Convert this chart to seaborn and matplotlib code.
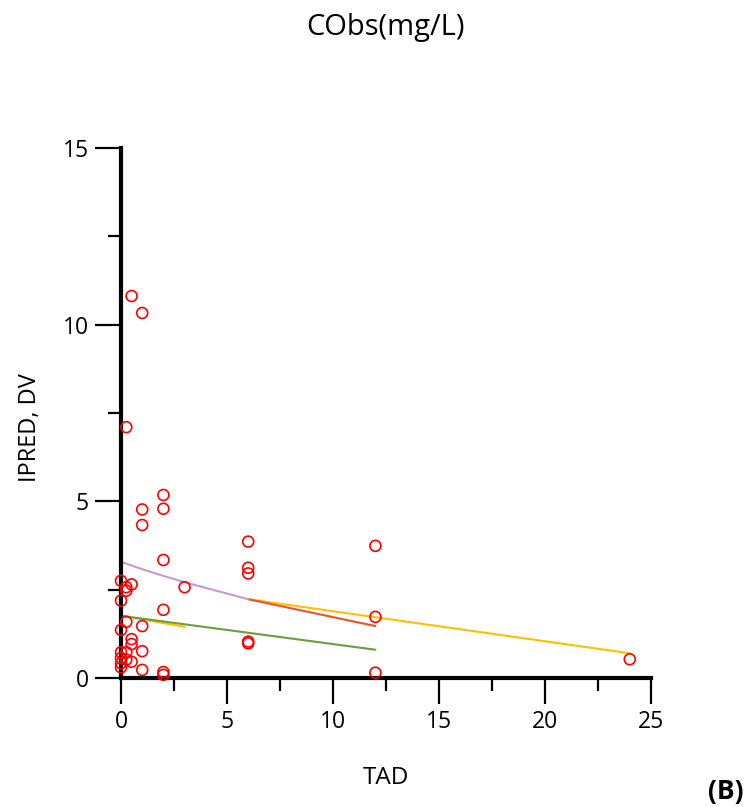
import matplotlib
matplotlib.use("Agg")
import matplotlib.pyplot as plt
import seaborn as sns
import pandas as pd
from matplotlib.ticker import MultipleLocator

# Observed data (TAD, DV)
tad_obs = [0, 0, 0, 0, 0, 0, 0,
           0.25, 0.25, 0.25, 0.25, 0.25, 0.25,
           0.5, 0.5, 0.5, 0.5, 0.5,
           1, 1, 1, 1, 1, 1,
           2, 2, 2, 2, 2, 2,
           3,
           6, 6, 6, 6, 6,
           12, 12, 12,
           24]
dv_obs = [2.75, 2.19, 1.36, 0.73, 0.57, 0.42, 0.30,
          7.10, 2.57, 2.47, 1.59, 0.73, 0.52,
          10.81, 2.65, 1.10, 0.96, 0.46,
          10.33, 4.77, 4.33, 1.47, 0.76, 0.23,
          5.18, 4.79, 3.34, 1.93, 0.17, 0.09,
          2.57,
          3.86, 3.12, 2.96, 1.03, 0.98,
          3.74, 1.73, 0.15,
          0.53]

# IPRED lines
line_ids = ["A", "B", "C", "D", "E"]
line_tad = {
    "A": [0, 1, 2, 3, 6],
    "B": [6, 12],
    "C": [6, 24],
    "D": [0, 12],
    "E": [0, 3],
}
line_ipred = {
    "A": [3.29, 3.08, 2.89, 2.71, 2.23],
    "B": [2.23, 1.47],
    "C": [2.23, 0.70],
    "D": [1.76, 0.80],
    "E": [1.76, 1.45],
}
line_colors = {"A": "#C49BD6", "B": "#E9532C", "C": "#FFC000", "D": "#6C9E3A", "E": "#FFC000"}

title = "CObs(mg/L)"
xlabel = "TAD"
ylabel = "IPRED, DV"
panel = "(B)"

sns.set_theme(style="white")
plt.rcParams["font.family"] = ["Open Sans", "DejaVu Sans"]
plt.rcParams["text.color"] = "black"
plt.rcParams["xtick.color"] = "black"
plt.rcParams["ytick.color"] = "black"

fig = plt.figure(figsize=(7.51, 8.07), dpi=100)
ax = fig.add_axes([121/751, 1-678/807, 530/751, 530/807])

rows = []
for lid in line_ids:
    for t, v in zip(line_tad[lid], line_ipred[lid]):
        rows.append({"TAD": t, "IPRED": v, "ID": lid})
df_lines = pd.DataFrame(rows)
df_obs = pd.DataFrame({"TAD": tad_obs, "DV": dv_obs})

order = ["C", "E", "D", "B", "A"]
for lid in order:
    sub = df_lines[df_lines["ID"] == lid]
    sns.lineplot(data=sub, x="TAD", y="IPRED", color=line_colors[lid], lw=1.5, ax=ax,
                 sort=False, estimator=None)

sns.scatterplot(data=df_obs, x="TAD", y="DV", ax=ax, marker="o", s=62,
                facecolor="none", edgecolor="#FF0000", linewidth=1.2, zorder=5, clip_on=False)

ax.set_xlim(0, 25)
ax.set_ylim(0, 15)
ax.xaxis.set_major_locator(MultipleLocator(5))
ax.xaxis.set_minor_locator(MultipleLocator(2.5))
ax.yaxis.set_major_locator(MultipleLocator(5))
ax.yaxis.set_minor_locator(MultipleLocator(2.5))

for s in ["top", "right"]:
    ax.spines[s].set_visible(False)
for s in ["left", "bottom"]:
    ax.spines[s].set_linewidth(3)
    ax.spines[s].set_color("black")

ax.tick_params(axis="both", which="major", direction="out", length=19, width=1.6,
               color="black", labelcolor="black", labelsize=16.5, pad=4, bottom=True, left=True)
ax.tick_params(axis="both", which="minor", direction="out", length=9.5, width=1.6,
               color="black", bottom=True, left=True)
ax.set_xlabel("")
ax.set_ylabel("")

fig.text(386/751, 1-28/807, title, ha="center", va="center", fontsize=21)
fig.text(386/751, 1-778/807, xlabel, ha="center", va="center", fontsize=17.5)
fig.text(30/751, 1-428/807, ylabel, ha="center", va="center", fontsize=17, rotation=90)
fig.text(726/751, 1-792/807, panel, ha="center", va="center", fontsize=19, fontweight="bold")

fig.savefig("out.png", dpi=100)
